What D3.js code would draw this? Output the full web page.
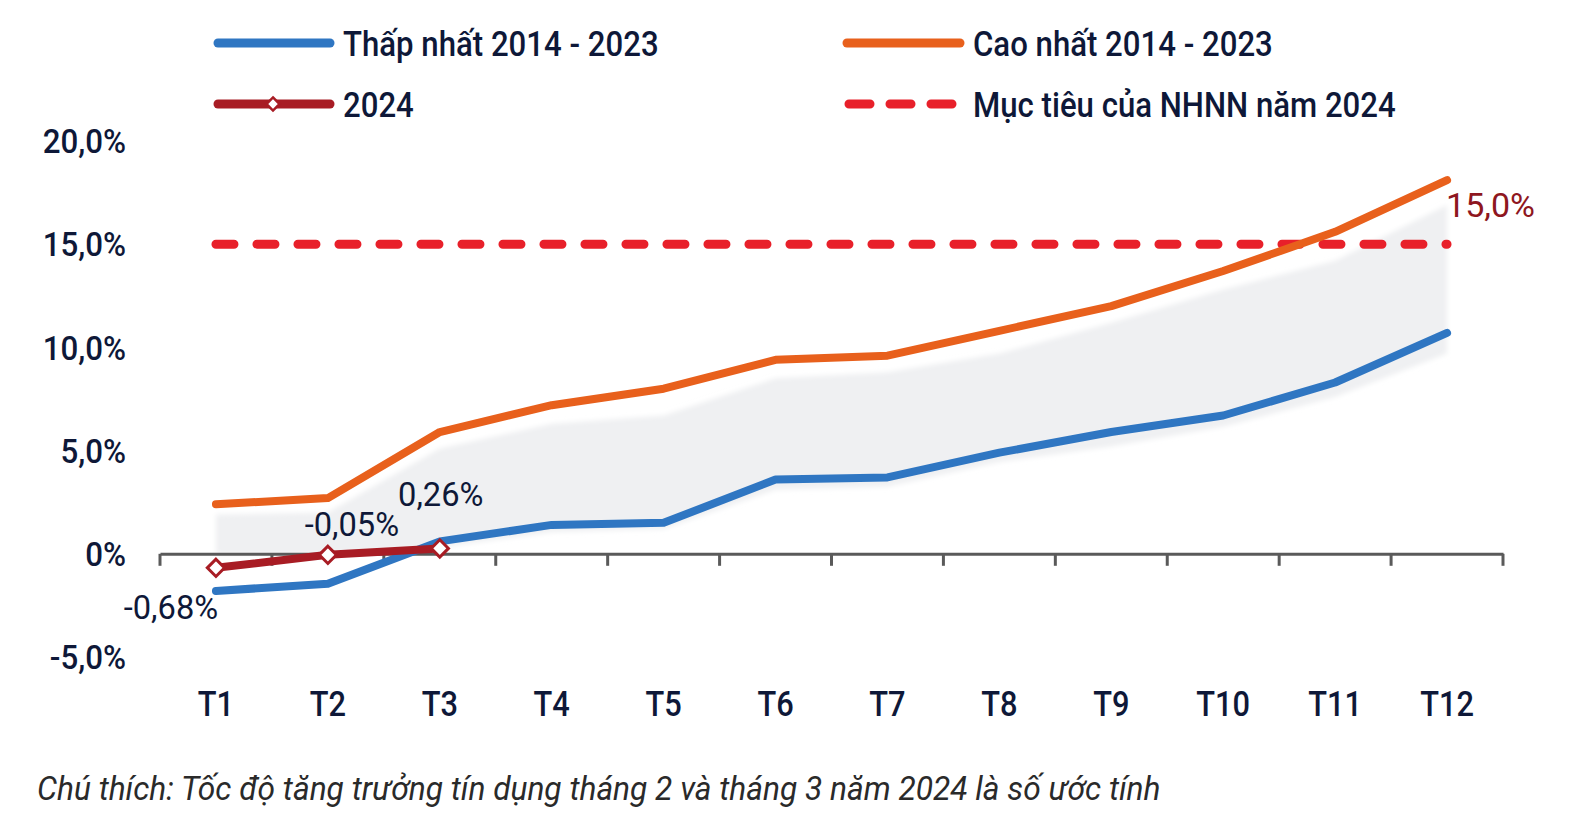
<!DOCTYPE html>
<html><head><meta charset="utf-8">
<script src="https://cdn.jsdelivr.net/npm/d3@7/dist/d3.min.js"></script>
<style>
html,body{margin:0;padding:0;background:#fff;}
text{font-family:"Roboto","Liberation Sans Narrow","DejaVu Sans Condensed",sans-serif;}
</style></head>
<body><svg id="chart" width="1575" height="827"></svg>
<script>
const months = ["T1","T2","T3","T4","T5","T6","T7","T8","T9","T10","T11","T12"];
const minVals = [-1.8, -1.45, 0.6, 1.4, 1.5, 3.6, 3.7, 4.9, 5.9, 6.7, 8.3, 10.7];
const maxVals = [2.4, 2.7, 5.9, 7.2, 8.0, 9.4, 9.6, 10.8, 12.0, 13.7, 15.6, 18.1];
const bandHigh = [1.9, 2.0, 5.1, 6.3, 6.7, 8.5, 8.8, 9.7, 11.2, 12.8, 14.2, 16.9];
const bandLow = [0, 0, 0.3, 1.05, 1.2, 3.1, 3.25, 4.45, 5.2, 6.15, 7.6, 9.7];
const vals2024 = [-0.68, -0.05, 0.26];
const labels2024 = ["-0,68%", "-0,05%", "0,26%"];
const target = 15.0;
const targetLabel = "15,0%";
const yTicks = [-5, 0, 5, 10, 15, 20];
const yTickLabels = ["-5,0%", "0%", "5,0%", "10,0%", "15,0%", "20,0%"];
const legendLabels = ["Thấp nhất 2014 - 2023", "Cao nhất 2014 - 2023", "2024", "Mục tiêu của NHNN năm 2024"];
const note = "Chú thích: Tốc độ tăng trưởng tín dụng tháng 2 và tháng 3 năm 2024 là số ước tính";

const C = {blue:"#2f76c2", orange:"#e8601c", dark:"#a81c24", red:"#e8202a", band:"#eff0f2", text:"#0e1838", axis:"#5a5a5a", labelRed:"#8e1620"};

const svg = d3.select("#chart");
const x = d3.scaleBand().domain(months).range([160, 1503]);
const y = d3.scaleLinear().domain([-5, 20]).range([657, 141]);
const cx = m => x(m) + x.bandwidth()/2;

function condense(sel, k){
  sel.each(function(){
    const w = this.getComputedTextLength();
    this.setAttribute("textLength", w*k);
    this.setAttribute("lengthAdjust","spacingAndGlyphs");
  });
}

// band
const defs = svg.append("defs");
defs.append("filter").attr("id","soft").append("feGaussianBlur").attr("stdDeviation",2.5);
svg.append("path")
  .datum(months.map((m,i)=>({m, lo:bandLow[i], hi:bandHigh[i]})))
  .attr("d", d3.area().x(d=>cx(d.m)).y0(d=>y(d.lo)).y1(d=>y(d.hi)))
  .attr("fill", C.band).attr("filter","url(#soft)");

// y labels
svg.append("g").selectAll("text").data(yTicks).join("text")
  .attr("x", 126).attr("y", d=>y(d)).attr("dy","0.36em")
  .attr("text-anchor","end").attr("font-size",34).attr("font-weight",500).attr("fill",C.text)
  .text((d,i)=>yTickLabels[i]).call(condense,0.92);

// x axis
const xAxis = svg.append("g").attr("transform",`translate(0,${y(0)})`)
  .call(d3.axisBottom(x).tickValues([]).tickSizeOuter(0));
xAxis.select(".domain").attr("stroke",C.axis).attr("stroke-width",3);
const bounds = months.map(m=>x(m)).concat([x(months[months.length-1])+x.bandwidth()]);
svg.append("g").selectAll("line").data(bounds).join("line")
  .attr("x1",d=>d).attr("x2",d=>d).attr("y1",y(0)).attr("y2",y(0)+12)
  .attr("stroke",C.axis).attr("stroke-width",3);
svg.append("g").selectAll("text").data(months).join("text")
  .attr("x", d=>cx(d)).attr("y", 716).attr("text-anchor","middle")
  .attr("font-size",35).attr("font-weight",500).attr("fill",C.text).text(d=>d).call(condense,0.88);

// target dashed line
svg.append("line").attr("x1",cx("T1")).attr("x2",cx("T12"))
  .attr("y1",y(target)).attr("y2",y(target))
  .attr("stroke",C.red).attr("stroke-width",9).attr("stroke-linecap","round")
  .attr("stroke-dasharray","18 23");

const line = d3.line().x((d,i)=>cx(months[i])).y(d=>y(d));
svg.append("path").datum(minVals).attr("d",line).attr("fill","none")
  .attr("stroke",C.blue).attr("stroke-width",8).attr("stroke-linecap","round").attr("stroke-linejoin","round");
svg.append("path").datum(maxVals).attr("d",line).attr("fill","none")
  .attr("stroke",C.orange).attr("stroke-width",8).attr("stroke-linecap","round").attr("stroke-linejoin","round");
svg.append("path").datum(vals2024).attr("d",line).attr("fill","none")
  .attr("stroke",C.dark).attr("stroke-width",8).attr("stroke-linecap","round");
const diamond = d3.symbol().type(d3.symbolDiamond2).size(190);
svg.append("g").selectAll("path").data(vals2024).join("path")
  .attr("transform",(d,i)=>`translate(${cx(months[i])},${y(d)})`)
  .attr("d",diamond).attr("fill","#fff").attr("stroke",C.dark).attr("stroke-width",3);

// labels 2024
const lblPos = [{dx:-45, dy:51}, {dx:24, dy:-19}, {dx:1, dy:-42}];
svg.append("g").selectAll("text").data(vals2024).join("text")
  .attr("x",(d,i)=>cx(months[i])+lblPos[i].dx).attr("y",(d,i)=>y(d)+lblPos[i].dy)
  .attr("text-anchor","middle").attr("font-size",34).attr("fill",C.text)
  .text((d,i)=>labels2024[i]).call(condense,0.96);
svg.append("text").attr("x",cx("T12")-1).attr("y",y(target)-27)
  .attr("font-size",34).attr("fill",C.labelRed).text(targetLabel).call(condense,1.0);

// legend
const lg = svg.append("g");
function legLine(x1,x2,yy,color,dash){
  lg.append("line").attr("x1",x1).attr("x2",x2).attr("y1",yy).attr("y2",yy)
    .attr("stroke",color).attr("stroke-width",9).attr("stroke-linecap","round")
    .attr("stroke-dasharray",dash||null);
}
legLine(218,330,43,C.blue);
legLine(847,960,43,C.orange);
legLine(218,330,104,C.dark);
legLine(849,955,104,C.red,"21 20");
lg.append("path").attr("transform","translate(273,104)").attr("d",d3.symbol().type(d3.symbolDiamond2).size(110))
  .attr("fill","#fff").attr("stroke",C.dark).attr("stroke-width",2.5);
const legPos = [[343,43],[973,43],[343,104],[973,104]];
lg.selectAll("text").data(legendLabels).join("text")
  .attr("x",(d,i)=>legPos[i][0]).attr("y",(d,i)=>legPos[i][1]).attr("dy","0.36em")
  .attr("font-size",35).attr("font-weight",500).attr("fill",C.text).text(d=>d).call(condense,0.89);

// note
svg.append("text").attr("x",37).attr("y",800).attr("font-size",33)
  .attr("font-style","italic").attr("fill","#2a2a2a").text(note).call(condense,0.96);
</script></body></html>
